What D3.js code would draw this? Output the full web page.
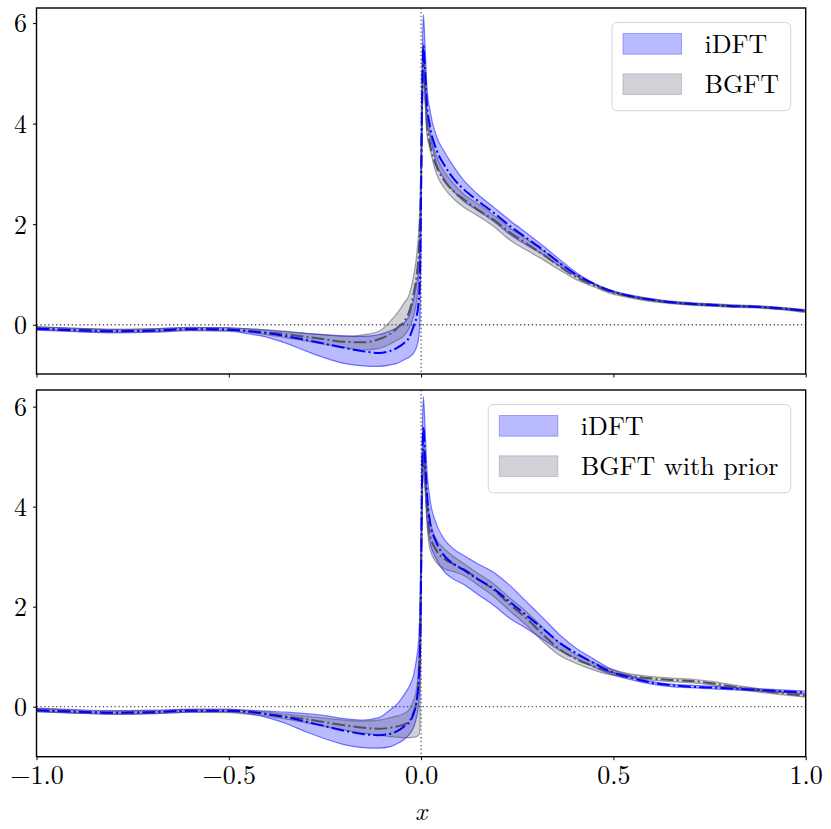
<!DOCTYPE html>
<html><head><meta charset="utf-8">
<script src="https://cdn.jsdelivr.net/npm/d3@7"></script>
<style>
body{margin:0;background:#fff;}
svg{display:block;}
</style></head>
<body>
<svg id="chart" width="831" height="829"></svg>
<script>
// ---------------- data ----------------
const xs = [-1, -0.9, -0.8, -0.7, -0.6, -0.5, -0.45, -0.4, -0.35, -0.3, -0.25, -0.2, -0.15, -0.11, -0.08, -0.06,
  -0.045, -0.03, -0.02, -0.012, -0.006, -0.003, 0,
  0.002, 0.004, 0.006, 0.01, 0.015, 0.023, 0.04, 0.06, 0.085, 0.11,
  0.145, 0.19, 0.23, 0.275, 0.32, 0.36, 0.405, 0.45, 0.49, 0.54,
  0.6, 0.65, 0.7, 0.75, 0.8, 0.85, 0.9, 0.95, 1.0];

// top panel: iDFT vs BGFT
const topIdftUpper = [-0.04,-0.07,-0.09,-0.08,-0.05,-0.06,-0.08,-0.11,-0.14,-0.17,-0.2,-0.22,-0.23,-0.2,-0.12,-0.05,
  0.03,0.2,0.49,0.8,1.15,1.6,3.0,
  4.6,5.7,6.17,5.6,4.75,4.27,3.75,3.45,3.14,2.88,2.61,2.33,2.08,1.82,1.55,1.3,1.03,0.82,0.69,0.59,0.51,0.46,0.43,0.41,0.39,0.38,0.36,0.33,0.29];
const topIdftMean = [-0.08,-0.11,-0.13,-0.12,-0.09,-0.1,-0.13,-0.17,-0.23,-0.3,-0.38,-0.46,-0.53,-0.56,-0.52,-0.45,
  -0.37,-0.24,-0.04,0.15,0.5,1.0,2.6,
  4.2,5.1,5.55,5.1,4.4,3.95,3.48,3.18,2.9,2.7,2.48,2.22,1.97,1.72,1.47,1.23,0.99,0.81,0.68,0.575,0.495,0.445,0.415,0.395,0.375,0.365,0.345,0.315,0.275];
const topIdftLower = [-0.11,-0.14,-0.16,-0.15,-0.12,-0.13,-0.18,-0.25,-0.37,-0.52,-0.66,-0.77,-0.82,-0.83,-0.8,-0.76,
  -0.7,-0.64,-0.57,-0.45,-0.25,0.0,1.8,
  3.8,4.6,5.0,4.6,4.0,3.75,3.2,2.9,2.65,2.46,2.28,2.05,1.8,1.58,1.38,1.17,0.96,0.8,0.67,0.56,0.48,0.43,0.4,0.38,0.36,0.35,0.33,0.3,0.26];
const topBgftUpper = [-0.04,-0.07,-0.09,-0.08,-0.06,-0.06,-0.08,-0.1,-0.13,-0.17,-0.2,-0.23,-0.2,-0.13,0.07,0.25,
  0.42,0.62,0.95,1.35,1.9,2.4,3.3,
  4.3,5.2,5.6,5.1,4.3,3.85,3.35,3.05,2.8,2.6,2.42,2.17,1.93,1.7,1.46,1.24,1.0,0.82,0.7,0.6,0.52,0.47,0.44,0.42,0.4,0.385,0.365,0.335,0.3];
const topBgftMean = [-0.07,-0.1,-0.12,-0.11,-0.08,-0.09,-0.12,-0.15,-0.19,-0.24,-0.29,-0.34,-0.35,-0.29,-0.18,-0.05,
  0.06,0.28,0.6,0.95,1.45,2.0,3.0,
  4.0,4.9,5.3,4.8,4.0,3.6,3.15,2.87,2.65,2.5,2.3,2.08,1.84,1.61,1.38,1.16,0.94,0.78,0.66,0.57,0.49,0.445,0.415,0.395,0.375,0.36,0.34,0.31,0.27];
const topBgftLower = [-0.1,-0.13,-0.15,-0.14,-0.11,-0.12,-0.15,-0.2,-0.26,-0.32,-0.39,-0.45,-0.5,-0.47,-0.38,-0.3,
  -0.22,-0.05,0.16,0.45,0.9,1.5,2.6,
  3.7,4.6,5.0,4.5,3.8,3.5,3.0,2.72,2.5,2.34,2.18,1.95,1.69,1.48,1.28,1.09,0.89,0.75,0.63,0.54,0.46,0.42,0.39,0.37,0.35,0.34,0.32,0.29,0.24];

// bottom panel: iDFT vs BGFT with prior
const botIdftUpper = [-0.03,-0.06,-0.08,-0.07,-0.05,-0.05,-0.07,-0.09,-0.11,-0.14,-0.18,-0.24,-0.27,-0.22,-0.06,0.07,
  0.23,0.42,0.62,0.95,1.4,2.0,3.4,
  4.8,5.8,6.2,5.63,4.76,4.16,3.65,3.35,3.15,3.03,2.87,2.68,2.43,2.09,1.75,1.44,1.16,0.95,0.77,0.63,0.5,0.45,0.43,0.41,0.39,0.37,0.35,0.33,0.31];
const botIdftMean = [-0.07,-0.1,-0.12,-0.11,-0.08,-0.08,-0.1,-0.15,-0.21,-0.3,-0.39,-0.48,-0.55,-0.57,-0.54,-0.48,
  -0.4,-0.3,-0.15,0.1,0.55,1.1,2.6,
  4.3,5.2,5.6,5.0,4.3,3.7,3.28,3.02,2.85,2.74,2.56,2.35,2.1,1.82,1.54,1.28,1.06,0.87,0.71,0.59,0.48,0.43,0.4,0.385,0.365,0.345,0.325,0.305,0.285];
const botIdftLower = [-0.1,-0.13,-0.15,-0.14,-0.11,-0.1,-0.14,-0.22,-0.34,-0.5,-0.64,-0.76,-0.82,-0.83,-0.8,-0.73,
  -0.66,-0.55,-0.42,-0.22,0.1,0.5,2.0,
  3.8,4.7,5.1,4.5,3.8,3.3,2.95,2.7,2.55,2.45,2.26,2.02,1.77,1.56,1.33,1.13,0.96,0.79,0.66,0.55,0.45,0.4,0.38,0.36,0.34,0.32,0.3,0.28,0.26];
const botBgftUpper = [-0.04,-0.07,-0.09,-0.08,-0.06,-0.06,-0.08,-0.11,-0.15,-0.19,-0.23,-0.27,-0.29,-0.27,-0.22,-0.18,
  -0.14,-0.05,0.12,0.35,0.9,1.6,3.0,
  4.2,5.0,5.4,5.0,4.3,3.75,3.35,3.16,3.0,2.87,2.68,2.45,2.18,1.89,1.56,1.27,1.03,0.88,0.76,0.66,0.6,0.57,0.55,0.51,0.45,0.39,0.34,0.29,0.24];
const botBgftMean = [-0.07,-0.1,-0.12,-0.11,-0.08,-0.09,-0.11,-0.15,-0.2,-0.25,-0.31,-0.37,-0.42,-0.44,-0.42,-0.39,
  -0.36,-0.28,-0.12,0.1,0.6,1.3,2.8,
  3.95,4.75,5.15,4.7,4.0,3.45,3.12,2.96,2.85,2.75,2.57,2.33,2.05,1.76,1.42,1.15,0.945,0.805,0.7,0.62,0.565,0.535,0.515,0.475,0.415,0.355,0.305,0.26,0.215];
const botBgftLower = [-0.1,-0.13,-0.15,-0.14,-0.11,-0.12,-0.15,-0.19,-0.25,-0.32,-0.4,-0.47,-0.53,-0.57,-0.6,-0.61,
  -0.62,-0.62,-0.61,-0.6,-0.56,-0.45,2.0,
  3.7,4.5,4.9,4.4,3.7,3.15,2.88,2.76,2.7,2.63,2.45,2.2,1.92,1.62,1.28,1.03,0.86,0.73,0.64,0.58,0.53,0.5,0.48,0.44,0.38,0.32,0.27,0.23,0.19];

const xTicks = [-1, -0.5, 0, 0.5, 1];
const xTickLabels = ["\u22121.0", "\u22120.5", "0.0", "0.5", "1.0"];
const yTicks = [0, 2, 4, 6];
const yTickLabels = ["0", "2", "4", "6"];
const topLegend = ["iDFT", "BGFT"];
const botLegend = ["iDFT", "BGFT with prior"];

// ---------------- drawing ----------------
const svg = d3.select("#chart");
const X0 = 36.5, X1 = 805.7;
const xScale = d3.scaleLinear().domain([-1, 1]).range([X0, X1]);

const BLUE = "#0000ff";
const GRAYC = "rgb(62,62,92)";
const SERIF = "Latin Modern Roman";
const DASHDOT = "12.8,3.2,2,3.2";

const panels = [
  {top: 8, bottom: 374, ydom: [-0.98, 6.3], showX: false, legend: topLegend, legW: 178.7,
   iu: topIdftUpper, im: topIdftMean, il: topIdftLower, bu: topBgftUpper, bm: topBgftMean, bl: topBgftLower},
  {top: 390, bottom: 756.7, ydom: [-1.0, 6.333], showX: true, legend: botLegend, legW: 302.4,
   iu: botIdftUpper, im: botIdftMean, il: botIdftLower, bu: botBgftUpper, bm: botBgftMean, bl: botBgftLower}
];

panels.forEach((p, pi) => {
  const y = d3.scaleLinear().domain(p.ydom).range([p.bottom, p.top]);
  const g = svg.append("g");
  const clipId = "clip" + pi;
  g.append("clipPath").attr("id", clipId).append("rect")
    .attr("x", X0).attr("y", p.top).attr("width", X1 - X0).attr("height", p.bottom - p.top);
  const plot = g.append("g").attr("clip-path", `url(#${clipId})`);

  const pts = (a) => xs.map((x, i) => [x, a[i]]);
  const band = (u, l) => d3.area().x((d, i) => xScale(xs[i])).y0((d, i) => y(l[i])).y1((d, i) => y(u[i]))
      .curve(d3.curveMonotoneX)(xs);
  const line = d3.line().x(d => xScale(d[0])).y(d => y(d[1])).curve(d3.curveMonotoneX);

  // reference dotted lines
  plot.append("line").attr("x1", X0).attr("x2", X1).attr("y1", y(0)).attr("y2", y(0))
    .attr("stroke", "#555").attr("stroke-width", 1.3).attr("stroke-dasharray", "1.3,2.6");
  plot.append("line").attr("x1", xScale(0)).attr("x2", xScale(0)).attr("y1", p.top).attr("y2", p.bottom)
    .attr("stroke", "#555").attr("stroke-width", 1.3).attr("stroke-dasharray", "1.3,2.6");

  // iDFT band
  plot.append("path").attr("d", band(p.iu, p.il)).attr("fill", BLUE).attr("fill-opacity", 0.27)
    .attr("stroke", "none");
  [p.iu, p.il].forEach(a => plot.append("path").attr("d", line(pts(a))).attr("fill", "none")
    .attr("stroke", BLUE).attr("stroke-opacity", 0.5).attr("stroke-width", 1.2));
  // BGFT band
  plot.append("path").attr("d", band(p.bu, p.bl)).attr("fill", GRAYC).attr("fill-opacity", 0.24)
    .attr("stroke", "none");
  [p.bu, p.bl].forEach(a => plot.append("path").attr("d", line(pts(a))).attr("fill", "none")
    .attr("stroke", "#4a4a5a").attr("stroke-opacity", 0.5).attr("stroke-width", 1.2));

  // means
  plot.append("path").attr("d", line(pts(p.bm))).attr("fill", "none")
    .attr("stroke", "#505060").attr("stroke-width", 2).attr("stroke-dasharray", DASHDOT);
  plot.append("path").attr("d", line(pts(p.im))).attr("fill", "none")
    .attr("stroke", BLUE).attr("stroke-width", 2).attr("stroke-dasharray", DASHDOT);

  // axes
  const xAxis = d3.axisBottom(xScale).tickValues(xTicks).tickSize(3.5).tickPadding(5)
    .tickFormat((d, i) => p.showX ? xTickLabels[i] : "");
  const gx = g.append("g").attr("transform", `translate(0,${p.bottom})`).call(xAxis)
    .attr("font-family", SERIF).attr("font-size", 26);
  gx.select(".domain").remove();
  gx.selectAll(".tick line").attr("stroke", "#000").attr("stroke-width", 1);
  gx.selectAll(".tick text").attr("fill", "#000");

  const yAxis = d3.axisLeft(y).tickValues(yTicks).tickSize(3.5).tickPadding(6)
    .tickFormat((d, i) => yTickLabels[i]);
  const gy = g.append("g").attr("transform", `translate(${X0},0)`).call(yAxis)
    .attr("font-family", SERIF).attr("font-size", 26);
  gy.select(".domain").remove();
  gy.selectAll(".tick line").attr("stroke", "#000").attr("stroke-width", 1);
  gy.selectAll(".tick text").attr("fill", "#000").attr("dy", "0.34em");

  // frame
  g.append("rect").attr("x", X0).attr("y", p.top).attr("width", X1 - X0).attr("height", p.bottom - p.top)
    .attr("fill", "none").attr("stroke", "#000").attr("stroke-width", 1.4);

  // legend
  const lx = X1 - 15 - p.legW, ly = p.top + 14.5;
  const lg = g.append("g").attr("transform", `translate(${lx},${ly})`);
  lg.append("rect").attr("x", 0).attr("y", 0).attr("width", p.legW).attr("height", 88.2)
    .attr("rx", 5).attr("ry", 5).attr("fill", "#fff").attr("fill-opacity", 0.8)
    .attr("stroke", "#d6d6d6").attr("stroke-width", 1);
  const items = [
    {fill: BLUE, op: 0.27, edge: BLUE, eop: 0.3},
    {fill: GRAYC, op: 0.24, edge: "#4a4a5a", eop: 0.25}
  ];
  p.legend.forEach((name, i) => {
    const yy = 11 + i * 40.3;
    lg.append("rect").attr("x", 11).attr("y", yy).attr("width", 58.5).attr("height", 20.7)
      .attr("fill", items[i].fill).attr("fill-opacity", items[i].op)
      .attr("stroke", items[i].edge).attr("stroke-opacity", items[i].eop).attr("stroke-width", 1);
    lg.append("text").attr("x", 92.5).attr("y", yy + 10.35).attr("dy", "0.35em")
      .attr("font-family", SERIF).attr("font-size", 26).attr("fill", "#000").text(name);
  });
});

// x label
svg.append("text").attr("x", xScale(0)).attr("y", 820).attr("text-anchor", "middle")
  .attr("font-family", SERIF).attr("font-style", "italic").attr("font-size", 26).attr("fill", "#000").text("x");
</script>
</body></html>
